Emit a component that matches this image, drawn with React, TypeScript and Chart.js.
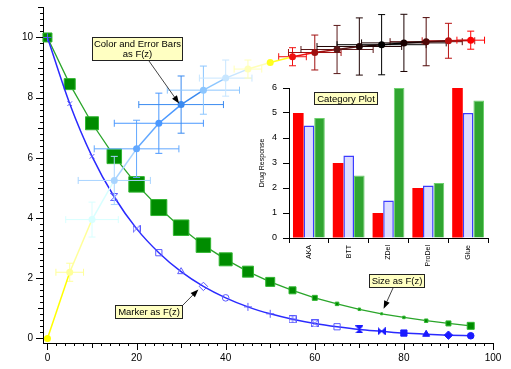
import React, { useEffect, useRef } from 'react';
import { Chart, registerables } from 'chart.js';
Chart.register(...registerables);

// ---------- data ----------
const X_VALUES = [0, 5, 10, 15, 20, 25, 30, 35, 40, 45, 50, 55, 60, 65, 70, 75, 80, 85, 90, 95];
const GREEN_Y = [10, 8.45, 7.15, 6.05, 5.12, 4.35, 3.68, 3.1, 2.63, 2.22, 1.88, 1.6, 1.35, 1.15, 0.97, 0.82, 0.7, 0.59, 0.5, 0.42];
const GREEN_SIZE = [9, 11, 13, 14.5, 15.5, 16, 15.5, 14.5, 13, 11, 9, 7, 5, 3.5, 2.5, 2, 2.5, 3.5, 5, 7];
const BLUE_Y = [10, 7.8, 6.05, 4.7, 3.65, 2.85, 2.22, 1.73, 1.35, 1.05, 0.82, 0.64, 0.5, 0.39, 0.3, 0.24, 0.18, 0.14, 0.11, 0.09];
const COLOR_Y = [0, 2.2, 3.95, 5.25, 6.3, 7.15, 7.77, 8.25, 8.65, 8.95, 9.17, 9.36, 9.5, 9.6, 9.7, 9.76, 9.82, 9.86, 9.89, 9.91];
const COLOR_ERR_Y = [0, 0.3, 0.58, 0.8, 0.95, 1, 0.95, 0.8, 0.6, 0.3, 0, 0.3, 0.58, 0.8, 0.95, 1, 0.95, 0.8, 0.58, 0.3];
const COLOR_ERR_X = [0, 3.1, 5.9, 8.1, 9.5, 10, 9.5, 8.1, 5.9, 3.1, 0, 3.1, 5.9, 8.1, 9.5, 10, 9.5, 8.1, 5.9, 3.1];
const X_TICKS = [0, 20, 40, 60, 80, 100];
const Y_TICKS = [0, 2, 4, 6, 8, 10];

const CATEGORIES = ['AKA', 'BTT', 'ZDel', 'ProDel', 'Glue'];
const RED_VALUES = [5, 3, 1, 2, 6];
const BLUE_VALUES = [4.5, 3.3, 1.5, 2.1, 5];
const GREEN_VALUES = [4.8, 2.5, 6, 2.2, 5.5];
const INSET_Y_TICKS = [0, 1, 2, 3, 4, 5, 6];

// ---------- styles ----------
const FONT = "'Liberation Sans', Arial, Helvetica, sans-serif";
const COLOR_TABLE = [
  '#ffff00', '#ffff99', '#d8ffff', '#a8d4ff', '#62a8ff', '#4a98ff', '#3a8af0', '#8cc6ff', '#c8e6ff', '#ffffb8',
  '#ffff20', '#f01010', '#a01010', '#5a1818', '#200404', '#000000', '#1a0000', '#500808', '#b81010', '#ff0000',
];
const BLUE_MARKER_KINDS = ['cross', 'crossRot', 'crossRot', 'hourglass', 'bowtie', 'rect', 'triangle', 'rectRot', 'circle', 'cross',
  'cross', 'rectPlus', 'rectX', 'rect', 'hourglass', 'bowtie', 'rect', 'triangle', 'rectRot', 'circle'];
const BLUE_MARKER_FILLED = [false, false, false, false, false, false, false, false, false, false,
  false, false, false, false, true, true, true, true, true, true];
const BLUE_OPEN = '#5a5aff';
const BLUE_SOLID = '#1a1aff';

function markerCanvas(kind: string, filled: boolean, color: string, size: number) {
  const c = document.createElement('canvas');
  c.width = size; c.height = size;
  const g = c.getContext('2d')!;
  g.strokeStyle = color; g.fillStyle = color; g.lineWidth = 1;
  const m = 0.5, e = size - 0.5, h = size / 2;
  g.beginPath();
  if (kind === 'hourglass') { g.moveTo(m, m); g.lineTo(e, m); g.lineTo(m, e); g.lineTo(e, e); g.closePath(); }
  else if (kind === 'bowtie') { g.moveTo(m, m); g.lineTo(m, e); g.lineTo(e, m); g.lineTo(e, e); g.closePath(); }
  else if (kind === 'rectPlus') { g.rect(m, m, e - m, e - m); g.moveTo(h, m); g.lineTo(h, e); g.moveTo(m, h); g.lineTo(e, h); }
  else if (kind === 'rectX') { g.rect(m, m, e - m, e - m); g.moveTo(m, m); g.lineTo(e, e); g.moveTo(e, m); g.lineTo(m, e); }
  if (filled) g.fill();
  g.stroke();
  return c;
}

function drawBox(ctx: CanvasRenderingContext2D, lines: string[], x: number, y: number, w: number, h: number) {
  ctx.save();
  ctx.fillStyle = '#ffffc2';
  ctx.strokeStyle = '#222';
  ctx.lineWidth = 1;
  ctx.fillRect(x, y, w, h);
  ctx.strokeRect(x + 0.5, y + 0.5, w - 1, h - 1);
  ctx.fillStyle = '#000';
  ctx.font = `9.5px ${FONT}`;
  ctx.textAlign = 'center';
  ctx.textBaseline = 'middle';
  const lh = 10.5;
  const top = y + h / 2 - ((lines.length - 1) * lh) / 2;
  lines.forEach((t, i) => ctx.fillText(t, x + w / 2, top + i * lh + 0.5));
  ctx.restore();
}

function drawArrow(ctx: CanvasRenderingContext2D, x1: number, y1: number, x2: number, y2: number) {
  ctx.save();
  ctx.strokeStyle = '#444';
  ctx.lineWidth = 1;
  const ang = Math.atan2(y2 - y1, x2 - x1);
  const hl = 8, hw = 3;
  const bx = x2 - hl * Math.cos(ang), by = y2 - hl * Math.sin(ang);
  ctx.beginPath(); ctx.moveTo(x1, y1); ctx.lineTo(bx, by); ctx.stroke();
  ctx.fillStyle = '#000';
  ctx.beginPath();
  ctx.moveTo(x2, y2);
  ctx.lineTo(bx + hw * Math.sin(ang), by - hw * Math.cos(ang));
  ctx.lineTo(bx - hw * Math.sin(ang), by + hw * Math.cos(ang));
  ctx.closePath(); ctx.fill();
  ctx.restore();
}

const errorBarsPlugin = {
  id: 'errorBars',
  beforeDatasetDraw(chart: any, args: any) {
    if (args.index !== 0) return;
    const { ctx } = chart;
    const xs = chart.scales.x, ys = chart.scales.y;
    ctx.save();
    ctx.lineWidth = 1;
    const cap = 3.5;
    X_VALUES.forEach((xv, i) => {
      const ex = COLOR_ERR_X[i], ey = COLOR_ERR_Y[i];
      if (!ex && !ey) return;
      const px = xs.getPixelForValue(xv), py = ys.getPixelForValue(COLOR_Y[i]);
      const x0 = xs.getPixelForValue(xv - ex), x1 = xs.getPixelForValue(xv + ex);
      const y0 = ys.getPixelForValue(COLOR_Y[i] - ey), y1 = ys.getPixelForValue(COLOR_Y[i] + ey);
      ctx.strokeStyle = COLOR_TABLE[i];
      ctx.beginPath();
      ctx.moveTo(x0, py); ctx.lineTo(x1, py);
      ctx.moveTo(x0, py - cap); ctx.lineTo(x0, py + cap);
      ctx.moveTo(x1, py - cap); ctx.lineTo(x1, py + cap);
      ctx.moveTo(px, y0); ctx.lineTo(px, y1);
      ctx.moveTo(px - cap, y0); ctx.lineTo(px + cap, y0);
      ctx.moveTo(px - cap, y1); ctx.lineTo(px + cap, y1);
      ctx.stroke();
    });
    ctx.restore();
  },
};

const mainDecorPlugin = {
  id: 'mainDecor',
  afterDraw(chart: any) {
    const { ctx, chartArea } = chart;
    const xs = chart.scales.x, ys = chart.scales.y;
    ctx.save();
    ctx.strokeStyle = '#000';
    ctx.lineWidth = 1;
    ctx.beginPath();
    for (let i = 0; i <= 50; i++) {
      const px = Math.round(xs.getPixelForValue(i * 2)) + 0.5;
      const len = i % 10 === 0 ? 7 : i % 5 === 0 ? 5 : 3;
      ctx.moveTo(px, chartArea.bottom); ctx.lineTo(px, chartArea.bottom + len);
    }
    for (let i = 0; i <= 55; i++) {
      const py = Math.round(ys.getPixelForValue(i * 0.2)) + 0.5;
      const len = i % 10 === 0 ? 7 : i % 5 === 0 ? 5 : 3;
      ctx.moveTo(chartArea.left, py); ctx.lineTo(chartArea.left - len, py);
    }
    ctx.stroke();
    ctx.restore();

    // annotations
    drawBox(ctx, ['Color and Error Bars', 'as F(z)'], 92, 37, 91, 24);
    const c6x = xs.getPixelForValue(X_VALUES[6]), c6y = ys.getPixelForValue(COLOR_Y[6]);
    drawArrow(ctx, 149, 61, c6x - 2, c6y - 1);

    drawBox(ctx, ['Marker as F(z)'], 115, 305, 68, 14);
    const b7x = xs.getPixelForValue(X_VALUES[7]), b7y = ys.getPixelForValue(BLUE_Y[7]);
    drawArrow(ctx, 183, 305, b7x - 5, b7y + 3);

    drawBox(ctx, ['Size as F(z)'], 369, 274, 56, 14);
    const g15x = xs.getPixelForValue(X_VALUES[15]), g15y = ys.getPixelForValue(GREEN_Y[15]);
    drawArrow(ctx, 393, 288, g15x + 2, g15y - 5);
  },
};

const insetDecorPlugin = {
  id: 'insetDecor',
  afterDraw(chart: any) {
    const { ctx, chartArea } = chart;
    drawBox(ctx, ['Category Plot'], chartArea.left + 25, chartArea.top + 4, 64, 13);
  },
};

export default function App() {
  const mainRef = useRef<HTMLCanvasElement>(null);
  const insetRef = useRef<HTMLCanvasElement>(null);

  useEffect(() => {
    const blueStyles = BLUE_MARKER_KINDS.map((k, i) => {
      const filled = BLUE_MARKER_FILLED[i];
      const col = filled ? BLUE_SOLID : BLUE_OPEN;
      if (k === 'hourglass' || k === 'bowtie' || k === 'rectPlus' || k === 'rectX') return markerCanvas(k, filled, col, 8);
      return k;
    });
    const blueRadius = BLUE_MARKER_KINDS.map((k) =>
      k === 'circle' ? 3.3 : k === 'rect' ? 4.4 : k === 'triangle' ? 4 : k === 'rectRot' ? 4.2 : k === 'crossRot' ? 3.3 : 4);
    const blueBg = BLUE_MARKER_FILLED.map((f) => (f ? BLUE_SOLID : 'rgba(0,0,0,0)'));
    const blueBorder = BLUE_MARKER_FILLED.map((f) => (f ? BLUE_SOLID : BLUE_OPEN));

    const main = new Chart(mainRef.current!, {
      type: 'line',
      data: {
        datasets: [
          {
            data: X_VALUES.map((x, i) => ({ x, y: COLOR_Y[i] })),
            borderWidth: 1.5,
            borderColor: COLOR_TABLE[0],
            segment: { borderColor: (c: any) => COLOR_TABLE[c.p0DataIndex] },
            pointRadius: 3.5,
            pointBorderWidth: 0,
            pointBackgroundColor: COLOR_TABLE,
            pointBorderColor: COLOR_TABLE,
            clip: false,
          } as any,
          {
            data: X_VALUES.map((x, i) => ({ x, y: BLUE_Y[i] })),
            borderColor: '#2a2aff',
            borderWidth: 1.5,
            cubicInterpolationMode: 'monotone',
            pointStyle: blueStyles as any,
            pointRadius: blueRadius,
            pointBorderWidth: 1,
            pointBackgroundColor: blueBg,
            pointBorderColor: blueBorder,
            clip: false,
          } as any,
          {
            data: X_VALUES.map((x, i) => ({ x, y: GREEN_Y[i] })),
            borderColor: '#2aa52a',
            borderWidth: 1.3,
            pointStyle: 'rect',
            pointRadius: GREEN_SIZE.map((s) => s / Math.SQRT2),
            pointBorderWidth: 1,
            pointBackgroundColor: '#008c00',
            pointBorderColor: '#30b530',
            clip: false,
          } as any,
        ],
      },
      options: {
        animation: false,
        responsive: false,
        devicePixelRatio: 1,
        events: [],
        layout: { padding: { top: 4, right: 18, left: 0, bottom: 0 } },
        plugins: { legend: { display: false }, tooltip: { enabled: false } },
        scales: {
          x: {
            type: 'linear',
            min: -1,
            max: 100,
            afterBuildTicks: (s: any) => { s.ticks = X_TICKS.map((v) => ({ value: v })); },
            afterFit: (s: any) => { s.height = 26; s.paddingLeft = 0; s.paddingRight = 0; },
            grid: { display: false, drawTicks: false },
            border: { display: true, color: '#000', width: 1 },
            ticks: { color: '#000', font: { family: FONT, size: 10 }, padding: 9, maxRotation: 0, autoSkip: false },
          },
          y: {
            type: 'linear',
            min: -0.15,
            max: 11,
            afterBuildTicks: (s: any) => { s.ticks = Y_TICKS.map((v) => ({ value: v })); },
            afterFit: (s: any) => { s.width = 43; s.paddingTop = 0; s.paddingBottom = 0; },
            grid: { display: false, drawTicks: false },
            border: { display: true, color: '#000', width: 1 },
            ticks: { color: '#000', font: { family: FONT, size: 10 }, padding: 10, autoSkip: false },
          },
        },
      } as any,
      plugins: [errorBarsPlugin, mainDecorPlugin],
    });

    const inset = new Chart(insetRef.current!, {
      type: 'bar',
      data: {
        labels: CATEGORIES,
        datasets: [
          { data: RED_VALUES, backgroundColor: '#ff0000', borderColor: '#ff0000', borderWidth: 0 },
          { data: BLUE_VALUES, backgroundColor: '#dcdcff', borderColor: '#3c3cff', borderWidth: 1.5 },
          { data: GREEN_VALUES, backgroundColor: '#30a530', borderColor: '#6cd06c', borderWidth: 1 },
        ],
      },
      options: {
        animation: false,
        responsive: false,
        devicePixelRatio: 1,
        events: [],
        layout: { padding: { top: 8, right: 14, left: 0, bottom: 0 } },
        datasets: { bar: { categoryPercentage: 0.8, barPercentage: 1 } },
        plugins: { legend: { display: false }, tooltip: { enabled: false } },
        scales: {
          x: {
            grid: { display: true, drawOnChartArea: false, offset: true, tickLength: 5, color: '#000', lineWidth: 1 },
            border: { display: true, color: '#000', width: 1 },
            ticks: { color: '#000', font: { family: FONT, size: 7 }, maxRotation: 90, minRotation: 90, padding: 2, autoSkip: false },
            afterFit: (s: any) => { s.height = 37; s.paddingLeft = 0; s.paddingRight = 0; },
          },
          y: {
            min: 0,
            max: 6,
            afterBuildTicks: (s: any) => { s.ticks = INSET_Y_TICKS.map((v) => ({ value: v })); },
            grid: { display: true, drawOnChartArea: false, tickLength: 6, color: '#000', lineWidth: 1 },
            border: { display: true, color: '#000', width: 1 },
            ticks: { color: '#000', font: { family: FONT, size: 9 }, padding: 6, autoSkip: false },
            title: { display: true, text: 'Drug Response', color: '#000', font: { family: FONT, size: 7 }, padding: { top: 18, bottom: 0 } },
            afterFit: (s: any) => { s.width = 49; s.paddingTop = 0; s.paddingBottom = 0; },
          },
        },
      } as any,
      plugins: [insetDecorPlugin],
    });

    return () => { main.destroy(); inset.destroy(); };
  }, []);

  return (
    <div style={{ position: 'fixed', left: 0, top: 0, width: 511, height: 369, background: '#fff' }}>
      <canvas ref={mainRef} width={511} height={369} style={{ position: 'absolute', left: 0, top: 0, width: 511, height: 369 }} />
      <canvas ref={insetRef} width={262} height={195} style={{ position: 'absolute', left: 240, top: 80, width: 262, height: 195 }} />
    </div>
  );
}
